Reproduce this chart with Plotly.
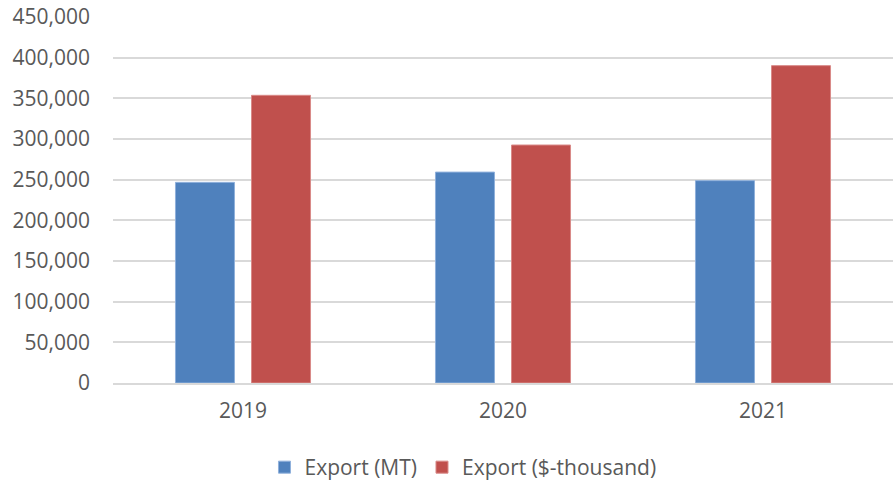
import plotly.graph_objects as go

years = ["2019", "2020", "2021"]
export_mt = [246700, 259300, 248800]
export_usd_thousand = [353700, 292600, 390200]
series_names = ["Export (MT)", "Export ($-thousand)"]
tick_vals = [0, 50000, 100000, 150000, 200000, 250000, 300000, 350000, 400000, 450000]

FONT = "Open Sans, Liberation Sans, sans-serif"

fig = go.Figure()
fig.add_trace(go.Bar(x=years, y=export_mt, name=series_names[0],
                     marker=dict(color="#4F81BD", line=dict(color="#8fb0dc", width=1))))
fig.add_trace(go.Bar(x=years, y=export_usd_thousand, name=series_names[1],
                     marker=dict(color="#C0504D", line=dict(color="#d98a88", width=1))))

fig.update_layout(
    width=895, height=481,
    margin=dict(l=113, r=2, t=17, b=98, autoexpand=False),
    paper_bgcolor="white", plot_bgcolor="white",
    barmode="group", bargap=0.415, bargroupgap=0.224,
    font=dict(family=FONT, size=21, color="#595959"),
    showlegend=True,
    legend=dict(orientation="h", xref="container", yref="container",
                x=0.2955, xanchor="left", y=1 - 447 / 481, yanchor="top",
                font=dict(size=21, color="#595959"), itemwidth=30),
    yaxis=dict(range=[0, 450000], tickvals=tick_vals, tickformat=",d",
               showgrid=True, gridcolor="#D9D9D9", gridwidth=1.5,
               zeroline=False, showline=False, ticks="", ticklabelstandoff=22,
               ticklabeloverflow="allow", fixedrange=True),
    xaxis=dict(showline=True, linecolor="#D9D9D9", linewidth=1.5, ticks="",
               ticklabelstandoff=8, fixedrange=True),
)

fig.write_html("out.html", config={"displayModeBar": False},
               post_script="document.body.style.margin='0';")
